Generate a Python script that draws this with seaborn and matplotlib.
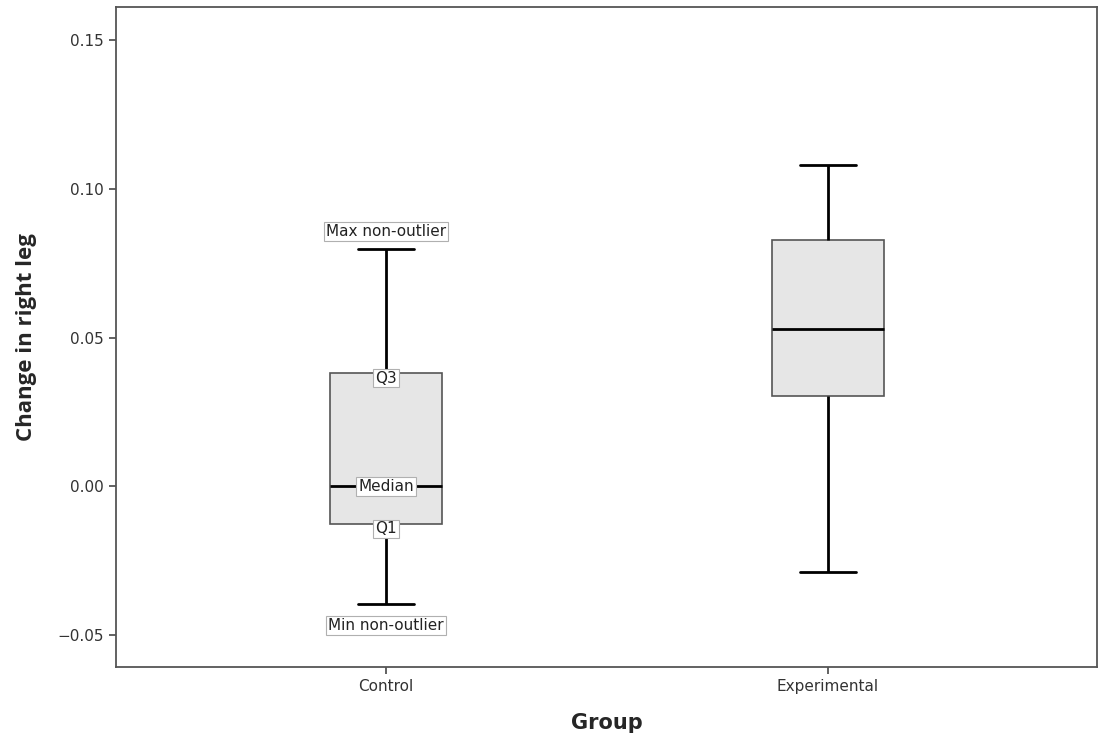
import numpy as np
import pandas as pd
import matplotlib
matplotlib.use('Agg')
import matplotlib.pyplot as plt
import seaborn as sns

# five-number summaries
groups = ['Control', 'Experimental']
control_vals = [-0.0394, -0.0126, 0.0000, 0.0381, 0.0799]
experimental_vals = [-0.0289, 0.0304, 0.0530, 0.0829, 0.1081]
yticks = [-0.05, 0.00, 0.05, 0.10, 0.15]
control_labels = ['Min non-outlier', 'Q1', 'Median', 'Q3', 'Max non-outlier']

df = pd.DataFrame({
    'Group': [groups[0]] * len(control_vals) + [groups[1]] * len(experimental_vals),
    'Change': control_vals + experimental_vals,
})

sns.set_style('white')
plt.rcParams['font.family'] = ['DejaVu Sans']

fig = plt.figure(figsize=(11.04, 7.34), dpi=100)
ax = fig.add_axes([0.105, 0.0913, 0.8887, 0.8992])

sns.boxplot(data=df, x='Group', y='Change', ax=ax, order=groups,
            width=0.253, color='#e6e6e6', saturation=1, whis=np.inf,
            boxprops=dict(edgecolor='#555555', linewidth=1.2),
            medianprops=dict(color='black', linewidth=2),
            whiskerprops=dict(color='black', linewidth=2),
            capprops=dict(color='black', linewidth=2))

# labels on the control box
offsets = [-15.8, -3.6, 0, -3.6, 12.6]
for val, lab, off in zip(control_vals, control_labels, offsets):
    ax.annotate(lab, xy=(0, val), xytext=(0, off), textcoords='offset points',
                ha='center', va='center', fontsize=11, color='#222222',
                bbox=dict(boxstyle='square,pad=0.12', fc='white', ec='#b0b0b0', lw=0.8))

ax.set_xlim(-0.611, 1.609)
ax.set_ylim(-0.0607, 0.1612)
ax.set_yticks(yticks)
ax.set_yticklabels([f'{t:.2f}'.replace('-', '\u2212') for t in yticks])

for sp in ax.spines.values():
    sp.set_visible(True)
    sp.set_color('#555555')
    sp.set_linewidth(1.3)

ax.tick_params(axis='both', direction='out', length=5, width=1.3, color='#555555',
               labelsize=11, labelcolor='#333333', left=True, bottom=True)

ax.set_xlabel('Group', fontsize=15, fontweight='bold', labelpad=14)
ax.set_ylabel('Change in right leg', fontsize=16, fontweight='bold',
              family=['Open Sans', 'DejaVu Sans'], labelpad=15)

fig.savefig('out.png', dpi=100)
